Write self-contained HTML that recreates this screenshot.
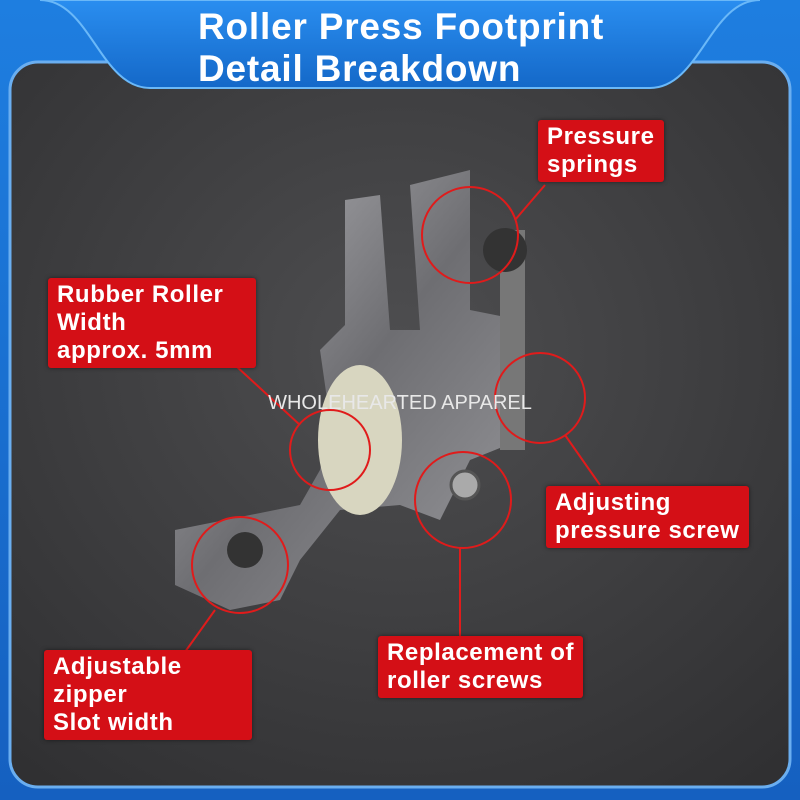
<!DOCTYPE html>
<html><head><meta charset="utf-8"><style>
body{margin:0;width:800px;height:800px;overflow:hidden;background:#1a6fd0;font-family:"Liberation Sans",sans-serif}
.lab{position:absolute;background:#d40f16;color:#fff;font-weight:bold;font-size:24px;letter-spacing:0.6px;line-height:28px;padding:3px 9px;border-radius:3px;box-shadow:0 0 4px rgba(0,0,0,.5)}
</style></head><body>
<svg width="800" height="800" style="position:absolute;left:0;top:0">
<defs>
<linearGradient id="bg" x1="0" y1="0" x2="0" y2="1"><stop offset="0" stop-color="#1e7ee0"/><stop offset="1" stop-color="#1560c0"/></linearGradient>
<radialGradient id="pn" cx=".5" cy=".4" r=".8"><stop offset="0" stop-color="#4e4e50"/><stop offset="1" stop-color="#2e2e30"/></radialGradient>
<linearGradient id="mt" x1="0" y1="0" x2="1" y2="1"><stop offset="0" stop-color="#b8b8bc"/><stop offset=".5" stop-color="#6e6e72"/><stop offset="1" stop-color="#9a9a9e"/></linearGradient>
<linearGradient id="hd" x1="0" y1="0" x2="0" y2="1"><stop offset="0" stop-color="#2a8ef0"/><stop offset="1" stop-color="#1468c8"/></linearGradient>
</defs>
<rect width="800" height="800" fill="url(#bg)"/>
<rect x="10" y="62" width="780" height="725" rx="28" fill="url(#pn)" stroke="#6aaef0" stroke-width="3"/>
<path d="M40 0 C90 0 100 88 150 88 L650 88 C700 88 710 0 760 0 Z" fill="url(#hd)" stroke="#6ab8f8" stroke-width="2"/>
<path d="M175 530 L300 505 L320 470 L330 420 L320 350 L345 325 L345 200 L380 195 L390 330 L420 330 L410 185 L470 170 L470 310 L520 320 L520 440 L470 460 L440 520 L400 505 L340 510 L300 560 L280 600 L230 610 L175 585 Z" fill="url(#mt)"/>
<ellipse cx="360" cy="440" rx="42" ry="75" fill="#d8d6c0"/>
<rect x="500" y="230" width="25" height="220" fill="#777"/>
<circle cx="505" cy="250" r="22" fill="#333"/>
<circle cx="465" cy="485" r="14" fill="#aaa" stroke="#555" stroke-width="3"/>
<circle cx="245" cy="550" r="18" fill="#333"/>
<g fill="none" stroke="#e01b1b" stroke-width="2">
<circle cx="470" cy="235" r="48"/><circle cx="540" cy="398" r="45"/><circle cx="330" cy="450" r="40"/><circle cx="463" cy="500" r="48"/><circle cx="240" cy="565" r="48"/>
<line x1="515" y1="220" x2="545" y2="185"/><line x1="565" y1="435" x2="600" y2="485"/><line x1="300" y1="425" x2="235" y2="365"/><line x1="460" y1="548" x2="460" y2="640"/><line x1="215" y1="610" x2="185" y2="652"/>
</g>
<text x="400" y="409" fill="#e8e8e8" font-size="20" text-anchor="middle" font-family="Liberation Sans">WHOLEHEARTED APPAREL</text>
<text x="198" y="39" fill="#fff" font-size="37" font-weight="bold" letter-spacing="0.8">Roller Press Footprint</text>
<text x="198" y="81" fill="#fff" font-size="37" font-weight="bold" letter-spacing="0.8">Detail Breakdown</text>
</svg>
<div class="lab" style="left:538px;top:120px">Pressure<br>springs</div>
<div class="lab" style="left:48px;top:278px;width:190px">Rubber Roller<br>Width<br>approx. 5mm</div>
<div class="lab" style="left:546px;top:486px">Adjusting<br>pressure screw</div>
<div class="lab" style="left:378px;top:636px">Replacement of<br>roller screws</div>
<div class="lab" style="left:44px;top:650px;width:190px">Adjustable<br>zipper<br>Slot width</div>
</body></html>
